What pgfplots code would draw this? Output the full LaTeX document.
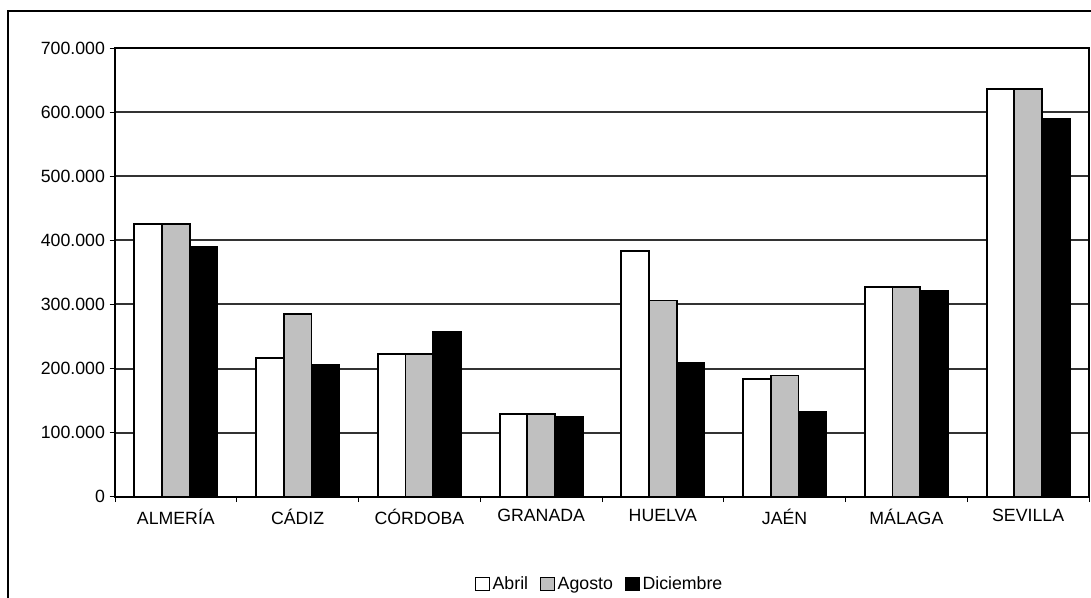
\documentclass[border=0pt]{standalone}
\usepackage{pgfplots}
\pgfplotsset{compat=1.18}
\usepackage{fontspec}
\setmainfont{Liberation Sans}
\definecolor{agosto}{HTML}{C0C0C0}
\newcommand\chartfont{\fontsize{13.3pt}{16pt}\selectfont}
\pgfplotsset{sq legend/.style={legend image code/.code={\draw[##1, line width=0.8pt] (0pt,-5.2pt) rectangle (10.4pt,5.2pt);}}}
\begin{document}
\begin{tikzpicture}[x=0.75pt,y=0.75pt]
\path[use as bounding box] (0,0) rectangle (1091,598);
\draw[line width=0.8pt] (8,0) -- (8,587) -- (1091,587);
\begin{axis}[
  at={(86.25pt,75.975pt)}, anchor=south west,
  scale only axis, width=730.5pt, height=336.5pt,
  xmin=-0.5, xmax=7.5, ymin=0, ymax=700000,
  ytick={0,100000,200000,300000,400000,500000,600000,700000},
  yticklabels={0,100.000,200.000,300.000,400.000,500.000,600.000,700.000},
  scaled y ticks=false,
  ymajorgrids, grid style={black!80, line width=1.5pt},
  axis line style={line width=1.3pt},
  xtick={0,...,7},
  xticklabels={ALMERÍA,CÁDIZ,CÓRDOBA,GRANADA,HUELVA,JAÉN,MÁLAGA,SEVILLA},
  major x tick style={draw=none},
  minor xtick={-0.5,0.5,...,7.5},
  minor x tick style={black, line width=0.6pt},
  minor tick length=4pt, major tick length=4pt,
  ytick style={black, line width=0.6pt},
  tick align=outside, xtick pos=bottom, ytick pos=left,
  tick label style={font=\chartfont},
  xticklabel style={yshift=-2pt},
  legend style={at={(0.498,-0.1946)}, anchor=center, draw=none, fill=none, legend columns=3, font=\chartfont,
    /tikz/every even column/.append style={column sep=7pt}},
]
\addplot[ybar, bar width=0.2275, bar shift=-0.2275, fill=white, draw=black, line width=1.4pt, sq legend]
  coordinates {(0,425000) (1,217000) (2,223000) (3,129000) (4,383000) (5,183000) (6,327000) (7,636000)};
\addlegendentry{Abril}
\addplot[ybar, bar width=0.2275, bar shift=0, fill=agosto, draw=black, line width=1.4pt, sq legend]
  coordinates {(0,425000) (1,285000) (2,223000) (3,129000) (4,306000) (5,189000) (6,327000) (7,636000)};
\addlegendentry{Agosto}
\addplot[ybar, bar width=0.2275, bar shift=0.2275, fill=black, draw=black, line width=1.4pt, sq legend]
  coordinates {(0,389000) (1,206000) (2,257000) (3,124000) (4,209000) (5,133000) (6,321000) (7,589000)};
\addlegendentry{Diciembre}
\end{axis}
\end{tikzpicture}
\end{document}
